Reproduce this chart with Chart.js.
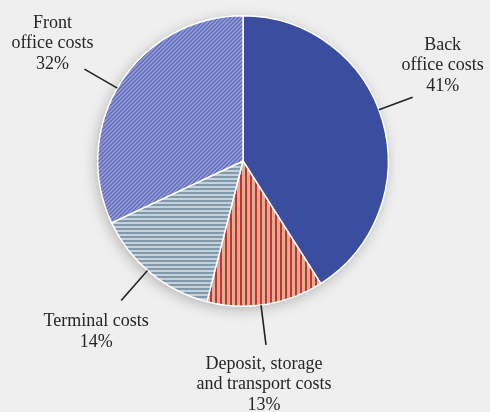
<!DOCTYPE html>
<html>
<head>
<meta charset="utf-8">
<script src="https://cdn.jsdelivr.net/npm/chart.js@4.4.1/dist/chart.umd.min.js"></script>
<style>
  html, body { margin: 0; padding: 0; background: #efefef; }
  #wrap { width: 490px; height: 412px; position: relative; }
</style>
</head>
<body>
<div id="wrap"><canvas id="pie" width="490" height="412"></canvas></div>
<script>
// cost shares, clockwise from 12 o'clock
const categories = ['Back office costs', 'Deposit, storage and transport costs', 'Terminal costs', 'Front office costs'];
const shares = [41, 13, 14, 32];
const labelLines = [
  ['Back', 'office costs', '41%'],
  ['Deposit, storage', 'and transport costs', '13%'],
  ['Terminal costs', '14%'],
  ['Front', 'office costs', '32%']
];

// where the leader leaves the slice (fraction of its sweep), its length,
// and the text offset from the leader end (dx, dy of first line centre)
const leaderLayout = [
  { at: 0.47, len: 36, dx: 30, dy: -52 },
  { at: 0.54, len: 40, dx: -2, dy: 19 },
  { at: 0.53, len: 40, dx: -25, dy: 21 },
  { at: 0.48, len: 38, dx: -32, dy: -46 }
];

function makePattern(w, h, base, draw) {
  const c = document.createElement('canvas');
  c.width = w; c.height = h;
  const g = c.getContext('2d');
  g.fillStyle = base;
  g.fillRect(0, 0, w, h);
  draw(g);
  return g.createPattern(c, 'repeat');
}

const backFill = '#3b4d9e';
const depositFill = makePattern(5, 5, '#e0ad98', g => {
  g.fillStyle = '#c2362c';
  g.fillRect(0, 0, 2, 5);
});
const terminalFill = makePattern(4, 4, '#c3d2dd', g => {
  g.fillStyle = '#8199ab';
  g.fillRect(0, 0, 4, 2);
});
const frontFill = makePattern(4, 4, '#939bda', g => {
  g.strokeStyle = '#5c64b2';
  g.lineWidth = 1.2;
  g.beginPath();
  g.moveTo(-1, 5); g.lineTo(5, -1);
  g.moveTo(-1, 1); g.lineTo(1, -1);
  g.moveTo(3, 5); g.lineTo(5, 3);
  g.stroke();
});

// soft shadow under the pie
const shadowPlugin = {
  id: 'pieShadow',
  beforeDatasetsDraw(chart) {
    const arc = chart.getDatasetMeta(0).data[0];
    if (!arc) return;
    const { x, y, outerRadius } = arc.getProps(['x', 'y', 'outerRadius'], true);
    const ctx = chart.ctx;
    ctx.save();
    ctx.shadowColor = 'rgba(0,0,0,0.25)';
    ctx.shadowBlur = 14;
    ctx.shadowOffsetX = -2;
    ctx.shadowOffsetY = 3;
    ctx.fillStyle = '#ffffff';
    ctx.beginPath();
    ctx.arc(x, y, outerRadius, 0, Math.PI * 2);
    ctx.fill();
    ctx.restore();
  }
};

// leader lines and multi-line labels
const labelPlugin = {
  id: 'leaderLabels',
  afterDatasetsDraw(chart) {
    const ctx = chart.ctx;
    const meta = chart.getDatasetMeta(0);
    ctx.save();
    meta.data.forEach((arc, i) => {
      const p = arc.getProps(['x', 'y', 'startAngle', 'endAngle', 'outerRadius'], true);
      const lay = leaderLayout[i];
      const a = p.startAngle + (p.endAngle - p.startAngle) * lay.at;
      const x0 = p.x + Math.cos(a) * p.outerRadius;
      const y0 = p.y + Math.sin(a) * p.outerRadius;
      const x1 = p.x + Math.cos(a) * (p.outerRadius + lay.len);
      const y1 = p.y + Math.sin(a) * (p.outerRadius + lay.len);
      ctx.strokeStyle = '#222';
      ctx.lineWidth = 1.6;
      ctx.beginPath();
      ctx.moveTo(x0, y0);
      ctx.lineTo(x1, y1);
      ctx.stroke();

      ctx.fillStyle = '#262626';
      ctx.font = '18px "Liberation Serif", "Times New Roman", serif';
      ctx.textAlign = 'center';
      ctx.textBaseline = 'middle';
      labelLines[i].forEach((line, k) => {
        ctx.fillText(line, x1 + lay.dx, y1 + lay.dy + k * 20.5);
      });
    });
    ctx.restore();
  }
};

new Chart(document.getElementById('pie'), {
  type: 'pie',
  data: {
    labels: categories,
    datasets: [{
      data: shares,
      backgroundColor: [backFill, depositFill, terminalFill, frontFill],
      borderColor: '#ffffff',
      borderWidth: 1.5
    }]
  },
  options: {
    responsive: false,
    animation: false,
    layout: { padding: { top: 15, bottom: 105, left: 97, right: 101 } },
    plugins: {
      legend: { display: false },
      tooltip: { enabled: false }
    }
  },
  plugins: [shadowPlugin, labelPlugin]
});
</script>
</body>
</html>
